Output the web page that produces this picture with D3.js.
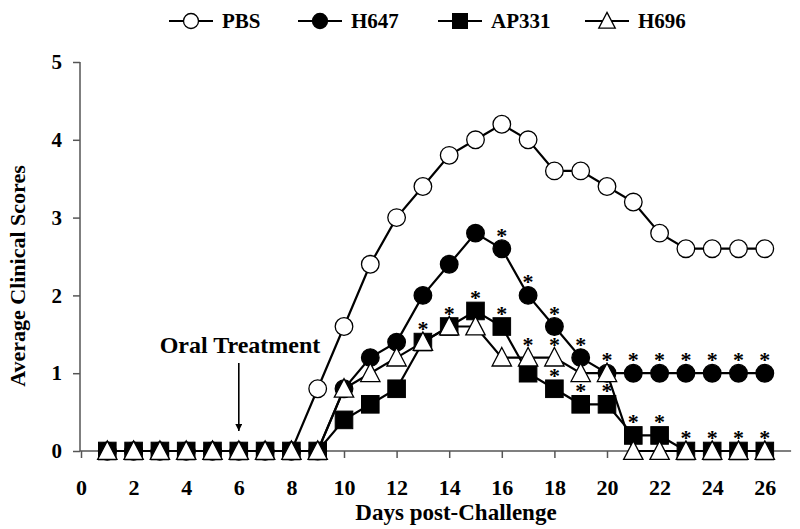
<!DOCTYPE html>
<html>
<head>
<meta charset="utf-8">
<script src="https://cdn.jsdelivr.net/npm/d3@7"></script>
<style>
  body { margin: 0; background: #fff; }
  text { font-family: "Liberation Serif", "Times New Roman", serif; font-weight: bold; }
</style>
</head>
<body>
<script>
// days on the x axis
const days = d3.range(1, 27);

// average clinical scores per group
const pbs   = [0, 0, 0, 0, 0, 0, 0, 0, 0.8, 1.6, 2.4, 3.0, 3.4, 3.8, 4.0, 4.2, 4.0, 3.6, 3.6, 3.4, 3.2, 2.8, 2.6, 2.6, 2.6, 2.6];
const h647  = [0, 0, 0, 0, 0, 0, 0, 0, 0, 0.8, 1.2, 1.4, 2.0, 2.4, 2.8, 2.6, 2.0, 1.6, 1.2, 1.0, 1.0, 1.0, 1.0, 1.0, 1.0, 1.0];
const ap331 = [0, 0, 0, 0, 0, 0, 0, 0, 0, 0.4, 0.6, 0.8, 1.4, 1.6, 1.8, 1.6, 1.0, 0.8, 0.6, 0.6, 0.2, 0.2, 0, 0, 0, 0];
const h696  = [0, 0, 0, 0, 0, 0, 0, 0, 0, 0.8, 1.0, 1.2, 1.4, 1.6, 1.6, 1.2, 1.2, 1.2, 1.0, 1.0, 0, 0, 0, 0, 0, 0];

// significance asterisks: [day, score of the point they sit above]
const stars = [
  [13, 1.4], [14, 1.6], [15, 1.8], [16, 2.6], [16, 1.6],
  [17, 2.0], [17, 1.2], [18, 1.6], [18, 1.2], [18, 0.8],
  [19, 1.2], [19, 0.6], [20, 1.0], [20, 0.6],
  [21, 1.0], [21, 0.2], [22, 1.0], [22, 0.2],
  [23, 1.0], [23, 0], [24, 1.0], [24, 0], [25, 1.0], [25, 0], [26, 1.0], [26, 0]
];

const xTicks = d3.range(0, 27, 2);
const yTicks = [0, 1, 2, 3, 4, 5];

const series = [
  { name: "PBS",   values: pbs,   shape: "circle",   fill: "#fff" },
  { name: "H647",  values: h647,  shape: "circle",   fill: "#000" },
  { name: "AP331", values: ap331, shape: "square",   fill: "#000" },
  { name: "H696",  values: h696,  shape: "triangle", fill: "#fff" }
];

const width = 800, height = 529;

const svg = d3.select("body").append("svg")
  .attr("width", width)
  .attr("height", height);

const x = d3.scaleLinear().domain([0, 27]).range([81, 81 + 27 * 26.3]);
const y = d3.scaleLinear().domain([0, 5]).range([451, 62]);

// axes
const xAxis = svg.append("g")
  .attr("transform", `translate(0,${y(0)})`)
  .call(d3.axisBottom(x).tickValues(xTicks).tickSize(7).tickPadding(21));
const yAxis = svg.append("g")
  .attr("transform", `translate(${x(0) - 1},0)`)
  .call(d3.axisLeft(y).tickValues(yTicks).tickFormat(d3.format("d")).tickSize(7).tickPadding(11));

[xAxis, yAxis].forEach(function(g) {
  g.select(".domain").attr("stroke", "#555").attr("stroke-width", 1.5);
  g.selectAll(".tick line").attr("stroke", "#555").attr("stroke-width", 1.5);
  g.selectAll(".tick text")
    .attr("fill", "#000")
    .style("font-family", "Liberation Serif, serif")
    .style("font-weight", "bold");
});
xAxis.selectAll(".tick text").style("font-size", "22px");
yAxis.selectAll(".tick text").style("font-size", "21px");
xAxis.select(".domain").attr("d", `M${x(0) - 1},0H${x(27)}`);
yAxis.select(".domain").attr("d", `M0,${y(0)}V${y(5)}`);

// axis titles
svg.append("text")
  .attr("x", 456).attr("y", 520)
  .attr("text-anchor", "middle")
  .style("font-size", "23px")
  .text("Days post-Challenge");

svg.append("text")
  .attr("transform", "translate(25,276) rotate(-90)")
  .attr("text-anchor", "middle")
  .style("font-size", "22px")
  .text("Average Clinical Scores");

// marker drawing helper
function drawMarker(g, shape, fill, cx, cy, r) {
  if (shape === "circle") {
    g.append("circle").attr("cx", cx).attr("cy", cy).attr("r", r)
      .attr("fill", fill).attr("stroke", "#000").attr("stroke-width", 1.3);
  } else if (shape === "square") {
    g.append("rect").attr("x", cx - r).attr("y", cy - r)
      .attr("width", 2 * r).attr("height", 2 * r)
      .attr("fill", fill).attr("stroke", "#000").attr("stroke-width", 1);
  } else {
    g.append("path")
      .attr("d", `M${cx},${cy - r * 1.15}L${cx + r * 1.1},${cy + r * 0.95}L${cx - r * 1.1},${cy + r * 0.95}Z`)
      .attr("fill", fill).attr("stroke", "#000").attr("stroke-width", 1.3);
  }
}

const line = d3.line()
  .x(function(d, i) { return x(days[i]); })
  .y(function(d) { return y(d); });

// series lines and markers
series.forEach(function(s) {
  const g = svg.append("g");
  g.append("path")
    .datum(s.values)
    .attr("d", line)
    .attr("fill", "none")
    .attr("stroke", "#000")
    .attr("stroke-width", 2.2);
  s.values.forEach(function(v, i) {
    drawMarker(g, s.shape, s.fill, x(days[i]), y(v), 8.8);
  });
});

// asterisks
svg.append("g").selectAll("text")
  .data(stars)
  .enter()
  .append("text")
  .attr("x", function(d) { return x(d[0]); })
  .attr("y", function(d) { return y(d[1]) - 6; })
  .attr("text-anchor", "middle")
  .style("font-size", "22px")
  .text("*");

// oral treatment annotation
svg.append("text")
  .attr("x", 240).attr("y", 353)
  .attr("text-anchor", "middle")
  .style("font-size", "24px")
  .text("Oral Treatment");

svg.append("defs").append("marker")
  .attr("id", "arrow")
  .attr("viewBox", "0 0 10 10")
  .attr("refX", 10).attr("refY", 5)
  .attr("markerWidth", 7).attr("markerHeight", 7)
  .attr("markerUnits", "userSpaceOnUse")
  .attr("orient", "auto")
  .append("path")
  .attr("d", "M0,0L10,5L0,10Z")
  .attr("fill", "#000");

svg.append("line")
  .attr("x1", x(6)).attr("x2", x(6))
  .attr("y1", 363).attr("y2", 431)
  .attr("stroke", "#000")
  .attr("stroke-width", 1.6)
  .attr("marker-end", "url(#arrow)");

// legend
const legendX = [191, 320, 460, 607];
series.forEach(function(s, i) {
  const g = svg.append("g");
  const cx = legendX[i], cy = 21;
  g.append("line")
    .attr("x1", cx - 22).attr("x2", cx + 22)
    .attr("y1", cy).attr("y2", cy)
    .attr("stroke", "#000").attr("stroke-width", 2.2);
  drawMarker(g, s.shape, s.fill, cx, cy, 7.5);
  g.append("text")
    .attr("x", cx + 31).attr("y", cy + 7)
    .style("font-size", "21px")
    .text(s.name);
});
</script>
</body>
</html>
